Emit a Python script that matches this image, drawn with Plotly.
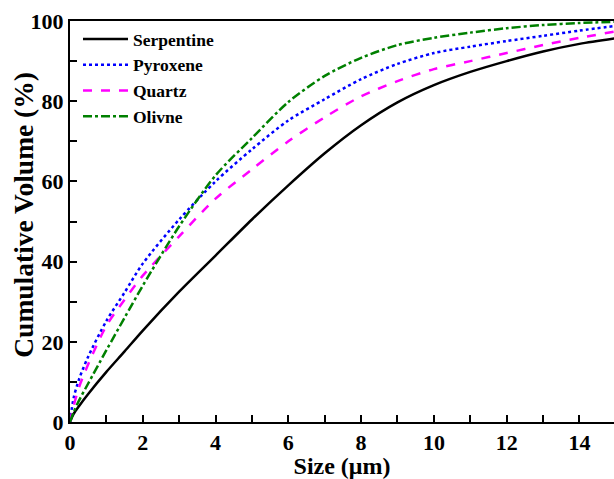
import plotly.graph_objects as go

size_um = [0, 0.1, 0.25, 0.5, 1, 1.5, 2, 3, 4, 5, 6, 7, 8, 9, 10, 11, 12, 13, 14, 15]
serpentine = [0, 2, 4, 7, 12.5, 17.6, 22.8, 32.5, 41.5, 50.5, 59, 67, 74, 79.7, 84, 87.3, 90, 92.4, 94.3, 95.7]
pyroxene = [0, 6, 10.7, 16.3, 25.2, 32.3, 39.5, 50.5, 60, 68, 75.2, 80.5, 85.5, 89.3, 92, 93.6, 95, 96.3, 97.6, 98.8]
quartz = [0, 4, 8.7, 14.4, 24, 30.5, 36.5, 46.3, 55.7, 63, 70, 76, 81.2, 85, 88, 90, 92, 94, 95.8, 97.4]
olivine = [0, 2.5, 5.4, 9.6, 17.9, 26, 34, 48.8, 61.5, 70.8, 79.8, 86.3, 90.8, 94, 95.8, 97.1, 98.2, 99, 99.5, 99.8]

series = [
    ("Serpentine", serpentine, "black", "solid"),
    ("Pyroxene", pyroxene, "blue", "dot"),
    ("Quartz", quartz, "magenta", "dash"),
    ("Olivne", olivine, "green", "dashdot"),
]

FONT = "Liberation Serif, Times New Roman, serif"

fig = go.Figure()
for name, vals, color, dash in series:
    fig.add_trace(go.Scatter(
        x=size_um, y=vals, mode="lines", name=name,
        line=dict(color=color, dash=dash, width=2.5, shape="spline", smoothing=0.8),
    ))

fig.update_layout(
    width=614, height=479,
    margin=dict(l=70, r=0, t=21, b=57),
    plot_bgcolor="white", paper_bgcolor="white",
    font=dict(family=FONT, size=22, color="black", weight="bold"),
    showlegend=True,
    legend=dict(
        x=0.0147, y=1.0, xanchor="left", yanchor="top",
        bgcolor="rgba(0,0,0,0)", borderwidth=0,
        font=dict(family=FONT, size=17.5, color="black", weight="bold"),
        tracegroupgap=0, itemwidth=45,
    ),
    xaxis=dict(
        range=[0, 14.95], dtick=2, tick0=0,
        ticks="inside", ticklen=7, tickwidth=1.5, tickcolor="black",
        minor=dict(dtick=1, ticks="inside", ticklen=7, tickwidth=1.5, tickcolor="black"),
        showline=True, linecolor="black", linewidth=2, mirror=True,
        showgrid=False, zeroline=False, automargin=False,
        tickfont=dict(family=FONT, size=22, weight="bold"),
        title=dict(text="Size (μm)", font=dict(family=FONT, size=24, weight="bold"), standoff=4),
    ),
    yaxis=dict(
        range=[0, 100], dtick=20, tick0=0,
        ticks="inside", ticklen=7, tickwidth=1.5, tickcolor="black",
        minor=dict(dtick=10, ticks="inside", ticklen=7, tickwidth=1.5, tickcolor="black"),
        showline=True, linecolor="black", linewidth=2,
        showgrid=False, zeroline=False, automargin=False,
        tickfont=dict(family=FONT, size=22, weight="bold"),
    ),
    annotations=[dict(
        text="Cumulative Volume (%)", textangle=-90,
        xref="paper", yref="paper", x=-0.0855, y=0.518,
        xanchor="center", yanchor="middle", showarrow=False,
        font=dict(family=FONT, size=27.5, weight="bold", color="black"),
    )],
)

fig.write_html(
    "out.html",
    config={"displayModeBar": False},
    post_script="document.body.style.margin='0';document.body.style.overflow='hidden';",
)
